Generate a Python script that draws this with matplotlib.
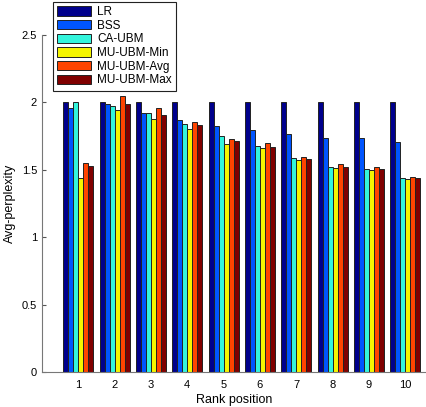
import matplotlib.pyplot as plt
import numpy as np

plt.rcParams['font.family'] = ['Liberation Sans', 'DejaVu Sans']

ranks = [1, 2, 3, 4, 5, 6, 7, 8, 9, 10]
methods = ['LR', 'BSS', 'CA-UBM', 'MU-UBM-Min', 'MU-UBM-Avg', 'MU-UBM-Max']

lr = [2.0, 2.0, 2.0, 2.0, 2.0, 2.0, 2.0, 2.0, 2.0, 2.0]
bss = [1.957, 1.987, 1.922, 1.868, 1.826, 1.794, 1.765, 1.735, 1.733, 1.708]
ca_ubm = [2.0, 1.972, 1.925, 1.841, 1.752, 1.678, 1.587, 1.518, 1.503, 1.437]
mu_min = [1.437, 1.947, 1.880, 1.804, 1.695, 1.661, 1.572, 1.516, 1.496, 1.432]
mu_avg = [1.550, 2.048, 1.957, 1.856, 1.729, 1.698, 1.592, 1.540, 1.518, 1.447]
mu_max = [1.525, 1.989, 1.905, 1.831, 1.710, 1.671, 1.580, 1.523, 1.506, 1.440]

series = [lr, bss, ca_ubm, mu_min, mu_avg, mu_max]
colors = ['#00008c', '#0055ff', '#33f5dd', '#f5f500', '#ff4400', '#800000']

fig = plt.figure(figsize=(4.27, 4.07), dpi=100)
ax = fig.add_axes([42/427, 35/407, 1 - 42/427, 337/407])

x = np.array(ranks)
w = 0.138
for i, (vals, c) in enumerate(zip(series, colors)):
    ax.bar(x + (i - 2.5) * w, vals, w, color=c, edgecolor='#222222',
           linewidth=0.7, label=methods[i])

ax.set_xlim(0, 10.6)
ax.set_ylim(0, 2.5)
ax.set_xticks(ranks)
ax.set_yticks([0, 0.5, 1, 1.5, 2, 2.5])
ax.set_yticklabels(['0', '0.5', '1', '1.5', '2', '2.5'])
ax.tick_params(direction='in', length=3, labelsize=8, color='#555555')
ax.tick_params(axis='x', length=0, pad=6)
for s in ['top', 'right']:
    ax.spines[s].set_visible(False)
for s in ['left', 'bottom']:
    ax.spines[s].set_color('#777777')
    ax.spines[s].set_linewidth(0.8)

ax.set_xlabel('Rank position', fontsize=9, labelpad=3)
ax.set_ylabel('Avg-perplexity', fontsize=9, labelpad=4)

leg = fig.legend(loc='upper left', bbox_to_anchor=(53/427, 1 - 2/407),
                 borderaxespad=0, fontsize=8.5, fancybox=False, framealpha=1,
                 edgecolor='#222222', handlelength=2.9, handleheight=0.85,
                 labelspacing=0.14, borderpad=0.35, handletextpad=0.5)
leg.get_frame().set_linewidth(0.8)

fig.savefig('out.png', dpi=100)
